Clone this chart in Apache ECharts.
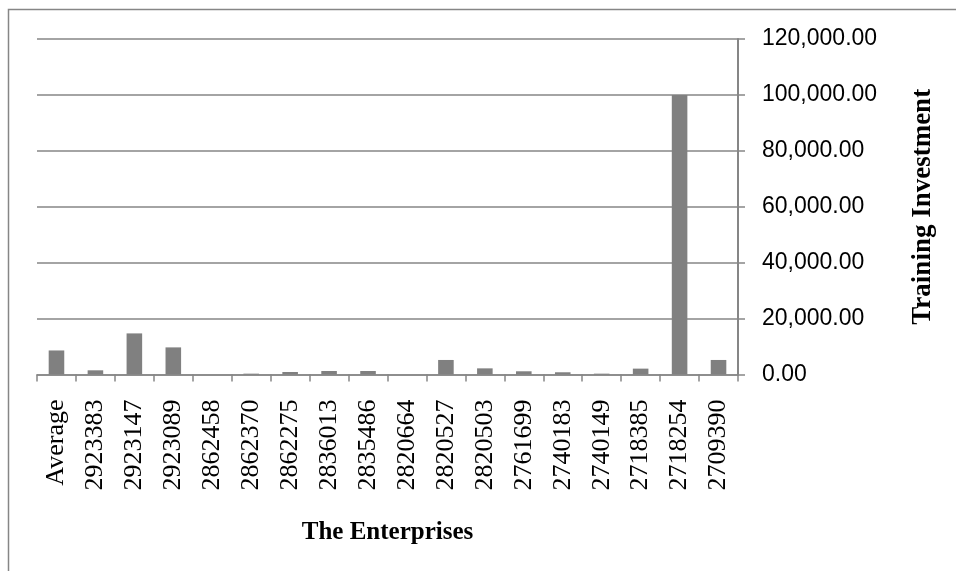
<!DOCTYPE html>
<html>
<head>
<meta charset="utf-8">
<script src="https://cdn.jsdelivr.net/npm/echarts@6/dist/echarts.min.js"></script>
<style>
  html, body { margin: 0; padding: 0; background: #fff; }
  #chart { width: 956px; height: 571px; }
</style>
</head>
<body>
<div id="chart"></div>
<script>
// Enterprise IDs (plus the overall average) along the category axis
const enterprises = [
  'Average', '2923383', '2923147', '2923089', '2862458', '2862370',
  '2862275', '2836013', '2835486', '2820664', '2820527', '2820503',
  '2761699', '2740183', '2740149', '2718385', '2718254', '2709390'
];

// Training investment per enterprise
const trainingInvestment = [
  8600, 1500, 14700, 9700, 0, 300,
  900, 1250, 1250, 0, 5200, 2200,
  1150, 800, 300, 2100, 100000, 5200
];

// Value axis range
const yMin = 0;
const yMax = 120000;
const yStep = 20000;

const lineGray = '#868686';

const chart = echarts.init(document.getElementById('chart'), null, { renderer: 'canvas' });

chart.setOption({
  backgroundColor: '#ffffff',
  animation: false,
  graphic: [{
    type: 'rect',
    shape: { x: 8.5, y: 9.5, width: 1200, height: 1200 },
    style: { fill: 'none', stroke: lineGray, lineWidth: 1.5 },
    silent: true
  }],
  grid: {
    left: 37,
    right: 218,
    top: 39,
    bottom: 196.5,
    containLabel: false
  },
  xAxis: {
    type: 'category',
    data: enterprises,
    boundaryGap: true,
    axisLine: { show: true, lineStyle: { color: lineGray, width: 1.5 } },
    axisTick: { show: true, alignWithLabel: false, length: 7, lineStyle: { color: lineGray, width: 1.5 } },
    axisLabel: {
      interval: 0,
      rotate: 90,
      margin: 25,
      fontFamily: 'Liberation Serif',
      fontSize: 26,
      color: '#000'
    },
    name: 'The Enterprises',
    nameLocation: 'middle',
    nameGap: 146,
    nameTextStyle: {
      fontFamily: 'Liberation Serif',
      fontWeight: 'bold',
      fontSize: 25,
      color: '#000'
    }
  },
  yAxis: {
    type: 'value',
    position: 'right',
    min: yMin,
    max: yMax,
    interval: yStep,
    axisLine: { show: true, lineStyle: { color: lineGray, width: 2 } },
    axisTick: { show: true, inside: false, length: 7, lineStyle: { color: lineGray, width: 1.5 } },
    splitLine: { show: true, lineStyle: { color: lineGray, width: 1.5 } },
    axisLabel: {
      margin: 24,
      fontFamily: 'Liberation Sans',
      fontSize: 23,
      color: '#000',
      formatter: v => v.toLocaleString('en-US', { minimumFractionDigits: 2, maximumFractionDigits: 2 })
    },
    name: 'Training Investment',
    nameLocation: 'middle',
    nameRotate: 90,
    nameGap: 172,
    nameTextStyle: {
      fontFamily: 'Liberation Serif',
      fontWeight: 'bold',
      fontSize: 27,
      color: '#000'
    }
  },
  series: [{
    type: 'bar',
    data: trainingInvestment,
    barWidth: '40%',
    itemStyle: { color: '#808080' }
  }]
});
</script>
</body>
</html>
